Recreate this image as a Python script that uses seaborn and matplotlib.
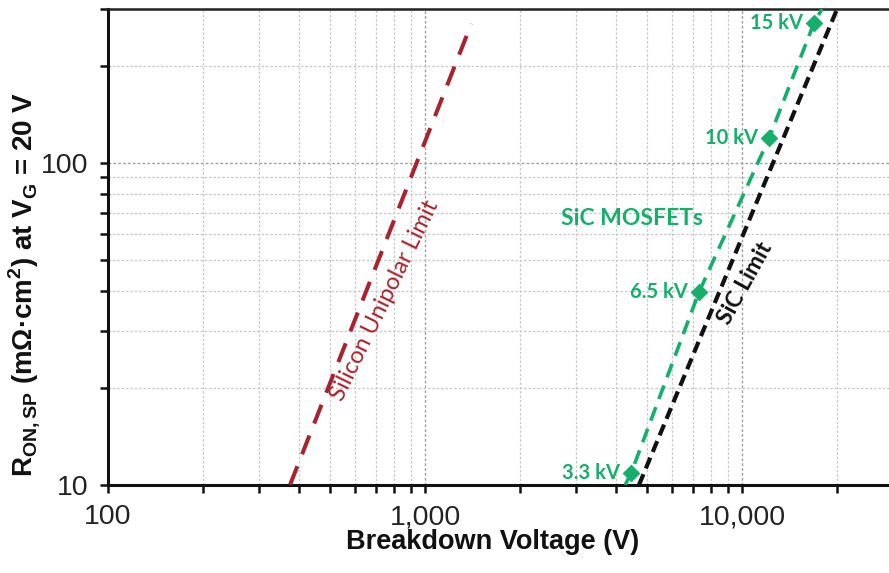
import numpy as np
import pandas as pd
import matplotlib
matplotlib.use("Agg")
import matplotlib.pyplot as plt
import seaborn as sns
from matplotlib.ticker import FixedLocator, NullFormatter, FixedFormatter

# Specific on-resistance vs. breakdown voltage (log-log)
si_limit_v = [375, 1400]
si_limit_r = [10, 270]

sic_limit_v = [4730, 19950]
sic_limit_r = [10, 300]

mosfet_kv = ["3.3 kV", "6.5 kV", "10 kV", "15 kV"]
mosfet_v = [4470, 7310, 12160, 16860]
mosfet_r = [10.9, 39.6, 119, 271]
# trend line through the devices, carried to the plot edges
mosfet_trend_v = [4280, 4470, 7310, 12160, 16860, 17870]
mosfet_trend_r = [10, 10.9, 39.6, 119, 271, 300]

x_major = [100, 1000, 10000]
x_labels = ["100", "1,000", "10,000"]
y_major = [10, 100]
y_labels = ["10", "100"]

RED = "#A8232E"
GREEN = "#14B06A"
BLACK = "#111111"

sns.set_theme(style="white")
plt.rcParams["font.family"] = ["Liberation Sans", "DejaVu Sans"]
plt.rcParams["mathtext.fontset"] = "custom"
plt.rcParams["mathtext.bf"] = "Liberation Sans:bold"
plt.rcParams["mathtext.rm"] = "Liberation Sans"

fig = plt.figure(figsize=(8.89, 5.73), dpi=100)
ax = fig.add_axes([0.1215, 0.1536, 0.8833, 0.8307])
ax.set_xscale("log")
ax.set_yscale("log")
ax.set_xlim(100, 30000)
ax.set_ylim(10, 300)

# grid
x_minor = [m * d for d in (100, 1000, 10000) for m in range(2, 10)]
y_minor = [m * d for d in (10, 100) for m in range(2, 10)]
ax.xaxis.set_major_locator(FixedLocator(x_major))
ax.xaxis.set_major_formatter(FixedFormatter(x_labels))
ax.xaxis.set_minor_locator(FixedLocator(x_minor))
ax.xaxis.set_minor_formatter(NullFormatter())
ax.yaxis.set_major_locator(FixedLocator(y_major))
ax.yaxis.set_major_formatter(FixedFormatter(y_labels))
ax.yaxis.set_minor_locator(FixedLocator(y_minor))
ax.yaxis.set_minor_formatter(NullFormatter())

ax.grid(True, which="major", color="#a0a0a0", linestyle=(0, (2, 1.5)), linewidth=1.0)
ax.grid(True, which="minor", color="#c8c8c8", linestyle=(0, (2, 1.5)), linewidth=0.9)
ax.set_axisbelow(True)

# lines
sns.lineplot(x=si_limit_v, y=si_limit_r, ax=ax, color=RED, linewidth=2.9,
             linestyle=(0, (5, 3.2)), sort=False, zorder=3)
sns.lineplot(x=sic_limit_v, y=sic_limit_r, ax=ax, color=BLACK, linewidth=3.0,
             linestyle=(0, (2.8, 1.5)), sort=False, zorder=3)
sns.lineplot(x=mosfet_trend_v, y=mosfet_trend_r, ax=ax, color=GREEN, linewidth=2.6,
             linestyle=(0, (4, 2.4)), sort=False, zorder=4)
sns.scatterplot(x=mosfet_v, y=mosfet_r, ax=ax, color=GREEN, marker="D", s=70,
                edgecolor=GREEN, zorder=5)

# device labels
for lab, v, r in zip(mosfet_kv, mosfet_v, mosfet_r):
    ax.annotate(lab, (v, r), xytext=(-8, 0), textcoords="offset points",
                ha="right", va="center", color=GREEN, fontsize=14.5,
                fontweight="bold", family=["Lato", "DejaVu Sans"])

ax.text(4500, 67, "SiC MOSFETs", color=GREEN, fontsize=16.5, fontweight="bold",
        ha="center", va="center", family=["Lato", "DejaVu Sans"])
ax.text(748, 37.4, "Silicon Unipolar Limit", color=RED, fontsize=17,
        rotation=64, ha="center", va="center", rotation_mode="anchor",
        family=["Lato", "DejaVu Sans"])
ax.text(10200, 42.2, "SiC Limit", color=BLACK, fontsize=16.5, fontweight="bold",
        rotation=61, ha="center", va="center", rotation_mode="anchor",
        family=["Lato", "DejaVu Sans"])

# spines & ticks
for side in ("left", "bottom"):
    ax.spines[side].set_linewidth(2.2)
    ax.spines[side].set_color("#111111")
ax.spines["top"].set_linewidth(1.8)
ax.spines["top"].set_color("#222222")
ax.spines["right"].set_visible(False)

ax.tick_params(which="both", direction="out", length=6, width=1.8, color="#111111",
               top=False, right=False, left=True, bottom=True)
ax.tick_params(which="major", labelsize=20.5, pad=8, labelcolor="#222222")

ax.set_xlabel("Breakdown Voltage (V)", fontsize=19.5, fontweight="bold",
              color="#111111", va="baseline")
ax.xaxis.set_label_coords(0.49, -0.134)
ax.set_ylabel(r"R$_{\mathbf{ON,SP}}$ (mΩ·cm$^{\mathbf{2}}$) at V$_{\mathbf{G}}$ = 20 V",
              fontsize=20, fontweight="bold", color="#111111", va="center")
ax.yaxis.set_label_coords(-0.107, 0.422)

fig.savefig("out.png", dpi=100)
